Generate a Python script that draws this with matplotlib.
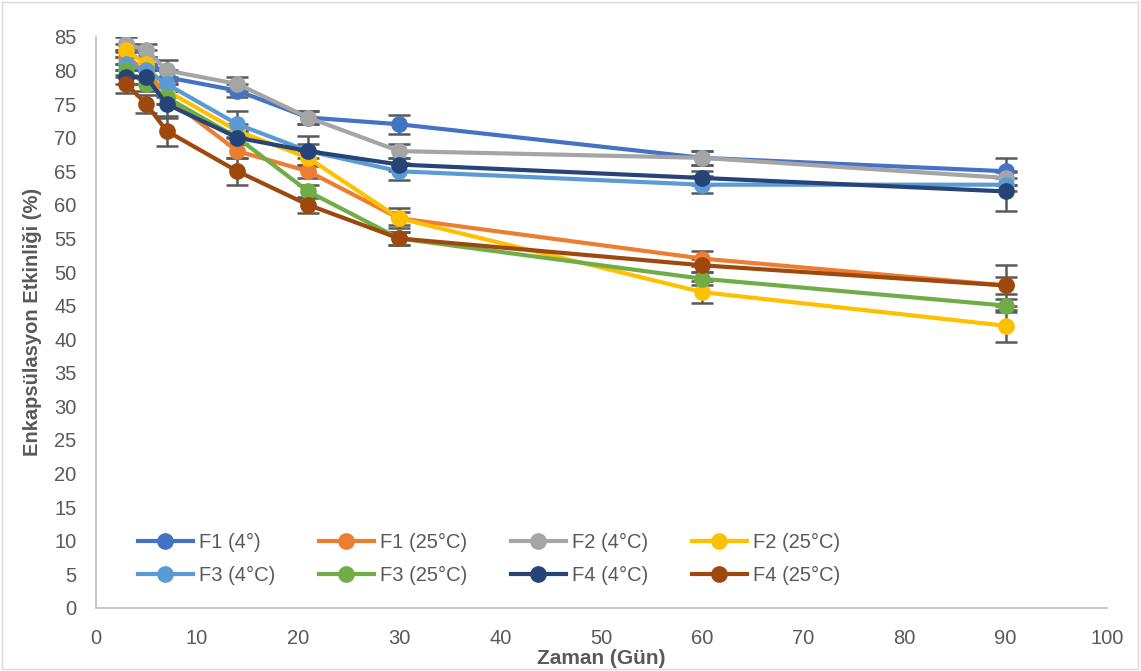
import numpy as np
import matplotlib.pyplot as plt
from matplotlib.patches import Rectangle
from matplotlib.lines import Line2D

plt.rcParams['font.family'] = ['Liberation Sans', 'DejaVu Sans']

days = [3, 5, 7, 14, 21, 30, 60, 90]
labels = ["F1 (4°)", "F1 (25°C)", "F2 (4°C)", "F2 (25°C)",
          "F3 (4°C)", "F3 (25°C)", "F4 (4°C)", "F4 (25°C)"]
colors = ["#4472C4", "#ED7D31", "#A5A5A5", "#FFC000",
          "#5B9BD5", "#70AD47", "#264478", "#9E480E"]

f1_4 = [84, 82, 79, 77, 73, 72, 67, 65]
f1_25 = [82, 80, 76, 68, 65, 58, 52, 48]
f2_4 = [84, 83, 80, 78, 73, 68, 67, 64]
f2_25 = [83, 81, 77, 71, 67, 58, 47, 42]
f3_4 = [81, 80, 78, 72, 68, 65, 63, 63]
f3_25 = [80, 78, 76, 70, 62, 55, 49, 45]
f4_4 = [79, 79, 75, 70, 68, 66, 64, 62]
f4_25 = [78, 75, 71, 65, 60, 55, 51, 48]

f1_4_err = [1, 1, 1, 1, 1, 1.4, 1, 2]
f1_25_err = [1, 1, 1, 1, 1, 1, 1.1, 1.3]
f2_4_err = [1.3, 1, 1.6, 1, 1, 1, 1, 1]
f2_25_err = [1, 1, 1, 1, 1, 1.5, 1.6, 2.4]
f3_4_err = [1, 1, 1, 1.9, 1, 1.3, 1.3, 1]
f3_25_err = [1, 1, 1, 1, 1, 1, 1, 1]
f4_4_err = [1, 1, 2, 1, 2.2, 1, 1, 2.9]
f4_25_err = [1.4, 1.3, 2.2, 2, 1.2, 1, 1, 3]

series = [f1_4, f1_25, f2_4, f2_25, f3_4, f3_25, f4_4, f4_25]
errors = [f1_4_err, f1_25_err, f2_4_err, f2_25_err,
          f3_4_err, f3_25_err, f4_4_err, f4_25_err]

fig = plt.figure(figsize=(11.41, 6.71), dpi=100)
ax = fig.add_axes([0.084, 0.094, 0.886, 0.851])

handles = []
for vals, err, col, lab in zip(series, errors, colors, labels):
    ax.errorbar(days, vals, yerr=err, color=col, marker='o', markersize=11,
                linewidth=3, ecolor='#595959', elinewidth=1.8, capsize=8,
                capthick=1.8)
    handles.append(Line2D([], [], color=col, marker='o', markersize=11,
                          linewidth=3, label=lab))

ax.set_xlim(0, 100)
ax.set_ylim(0, 85)
ax.set_xticks(range(0, 101, 10))
ax.set_yticks(range(0, 86, 5))
ax.tick_params(length=0, labelsize=14.5, colors='#595959')
ax.tick_params(axis='x', pad=15)
ax.tick_params(axis='y', pad=14)
for s in ['top', 'right']:
    ax.spines[s].set_visible(False)
for s in ['left', 'bottom']:
    ax.spines[s].set_color('#BFBFBF')
    ax.spines[s].set_linewidth(1.2)

ax.set_xlabel("Zaman (Gün)", fontsize=15, fontweight='bold', color='#595959', labelpad=1)
ax.set_ylabel("Enkapsülasyon Etkinliği (%)", fontsize=14.5, fontweight='bold', color='#595959', labelpad=9)

# row-major order for a 4-column legend
order = [0, 4, 1, 5, 2, 6, 3, 7]
ax.legend([handles[i] for i in order], [labels[i] for i in order],
          loc='upper left', bbox_to_anchor=(0.042, 0.131), ncol=4, frameon=False,
          fontsize=14.5, labelcolor='#595959', handlelength=2.7, columnspacing=2.2,
          handletextpad=0.3, borderpad=0, borderaxespad=0, labelspacing=0.7)

fig.patches.append(Rectangle((0.002, 0.003), 0.995, 0.994, transform=fig.transFigure,
                             fill=False, edgecolor='#D9D9D9', linewidth=1))

fig.savefig("out.png", dpi=100)
